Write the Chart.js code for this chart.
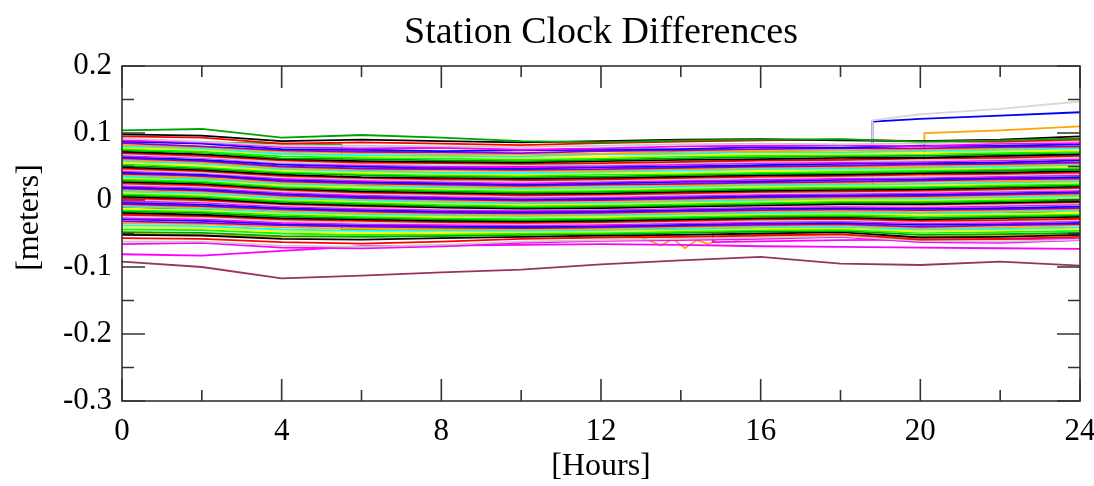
<!DOCTYPE html>
<html>
<head>
<meta charset="utf-8">
<title>Station Clock Differences</title>
<script src="https://cdn.jsdelivr.net/npm/chart.js@4.4.1/dist/chart.umd.min.js"></script>
<style>
  html, body { margin: 0; padding: 0; background: #fff; }
  #wrap { width: 1094px; height: 486px; position: relative; }
</style>
</head>
<body>
<div id="wrap"><canvas id="chart"></canvas></div>
<script>
// sample hours shared by all regular stations
const hours = [0, 2, 4, 6, 8, 10, 12, 14, 16, 18, 20, 22, 24];

// clock difference per station [m], one row per station
const clockDiffs = [
  [0.104, 0.106, 0.093, 0.097, 0.093, 0.088, 0.086, 0.089, 0.090, 0.091, 0.087, 0.089, 0.092],
  [0.098, 0.096, 0.088, 0.090, 0.088, 0.086, 0.088, 0.090, 0.091, 0.089, 0.088, 0.090, 0.095],
  [0.095, 0.093, 0.084, 0.086, 0.084, 0.082, 0.085, 0.087, 0.089, 0.090, 0.088, 0.087, 0.090],
  [0.092, 0.087, 0.081, 0.081, 0.080, 0.079, 0.081, 0.083, 0.084, 0.083, 0.085, 0.086, 0.088],
  [0.089, 0.086, 0.079, 0.077, 0.078, 0.075, 0.077, 0.080, 0.081, 0.082, 0.080, 0.084, 0.085],
  [0.087, 0.084, 0.076, 0.075, 0.073, 0.074, 0.075, 0.076, 0.079, 0.078, 0.081, 0.081, 0.083],
  [0.085, 0.080, 0.074, 0.072, 0.071, 0.070, 0.073, 0.074, 0.076, 0.077, 0.077, 0.079, 0.080],
  [0.082, 0.079, 0.072, 0.070, 0.068, 0.068, 0.069, 0.072, 0.073, 0.074, 0.075, 0.077, 0.079],
  [0.080, 0.077, 0.069, 0.067, 0.066, 0.065, 0.068, 0.069, 0.072, 0.071, 0.073, 0.075, 0.077],
  [0.078, 0.075, 0.068, 0.065, 0.064, 0.063, 0.064, 0.067, 0.069, 0.069, 0.070, 0.073, 0.074],
  [0.076, 0.072, 0.065, 0.063, 0.062, 0.060, 0.062, 0.065, 0.066, 0.067, 0.069, 0.070, 0.072],
  [0.074, 0.071, 0.062, 0.061, 0.059, 0.058, 0.060, 0.062, 0.064, 0.065, 0.066, 0.068, 0.071],
  [0.072, 0.068, 0.061, 0.058, 0.057, 0.056, 0.058, 0.060, 0.061, 0.063, 0.063, 0.066, 0.068],
  [0.070, 0.066, 0.059, 0.056, 0.055, 0.054, 0.055, 0.057, 0.059, 0.060, 0.062, 0.063, 0.066],
  [0.068, 0.064, 0.056, 0.054, 0.052, 0.052, 0.053, 0.055, 0.057, 0.058, 0.059, 0.061, 0.063],
  [0.066, 0.063, 0.055, 0.052, 0.050, 0.049, 0.051, 0.053, 0.055, 0.056, 0.057, 0.059, 0.061],
  [0.064, 0.060, 0.053, 0.050, 0.048, 0.047, 0.049, 0.050, 0.052, 0.054, 0.055, 0.056, 0.059],
  [0.062, 0.058, 0.050, 0.047, 0.046, 0.045, 0.046, 0.048, 0.050, 0.051, 0.053, 0.054, 0.056],
  [0.060, 0.056, 0.048, 0.045, 0.044, 0.043, 0.044, 0.046, 0.048, 0.049, 0.050, 0.052, 0.054],
  [0.058, 0.054, 0.046, 0.043, 0.041, 0.040, 0.042, 0.044, 0.046, 0.047, 0.048, 0.050, 0.052],
  [0.056, 0.051, 0.044, 0.041, 0.039, 0.038, 0.040, 0.041, 0.043, 0.045, 0.046, 0.048, 0.050],
  [0.054, 0.049, 0.042, 0.039, 0.037, 0.036, 0.038, 0.039, 0.041, 0.042, 0.044, 0.046, 0.048],
  [0.051, 0.047, 0.040, 0.037, 0.035, 0.034, 0.035, 0.037, 0.039, 0.040, 0.042, 0.044, 0.045],
  [0.049, 0.045, 0.038, 0.034, 0.033, 0.032, 0.033, 0.035, 0.037, 0.038, 0.040, 0.041, 0.043],
  [0.047, 0.043, 0.036, 0.033, 0.031, 0.030, 0.031, 0.033, 0.035, 0.036, 0.038, 0.039, 0.041],
  [0.045, 0.041, 0.034, 0.031, 0.029, 0.027, 0.029, 0.031, 0.033, 0.034, 0.035, 0.037, 0.039],
  [0.043, 0.040, 0.032, 0.029, 0.027, 0.025, 0.027, 0.029, 0.030, 0.032, 0.033, 0.035, 0.037],
  [0.041, 0.038, 0.030, 0.027, 0.025, 0.023, 0.025, 0.027, 0.028, 0.030, 0.031, 0.033, 0.034],
  [0.039, 0.036, 0.028, 0.025, 0.023, 0.021, 0.023, 0.024, 0.026, 0.027, 0.029, 0.031, 0.032],
  [0.037, 0.033, 0.026, 0.023, 0.021, 0.019, 0.021, 0.022, 0.024, 0.025, 0.027, 0.028, 0.030],
  [0.035, 0.031, 0.024, 0.021, 0.019, 0.017, 0.018, 0.020, 0.022, 0.023, 0.024, 0.026, 0.028],
  [0.033, 0.030, 0.022, 0.019, 0.017, 0.015, 0.016, 0.018, 0.020, 0.021, 0.022, 0.024, 0.026],
  [0.031, 0.028, 0.020, 0.017, 0.015, 0.013, 0.014, 0.016, 0.018, 0.019, 0.020, 0.022, 0.024],
  [0.029, 0.026, 0.018, 0.015, 0.013, 0.011, 0.012, 0.014, 0.016, 0.017, 0.018, 0.020, 0.022],
  [0.027, 0.024, 0.017, 0.013, 0.011, 0.009, 0.010, 0.012, 0.014, 0.015, 0.016, 0.018, 0.020],
  [0.025, 0.022, 0.015, 0.011, 0.009, 0.007, 0.008, 0.010, 0.012, 0.013, 0.014, 0.016, 0.018],
  [0.023, 0.020, 0.013, 0.009, 0.007, 0.005, 0.006, 0.008, 0.010, 0.011, 0.012, 0.014, 0.016],
  [0.021, 0.018, 0.011, 0.007, 0.005, 0.003, 0.004, 0.006, 0.008, 0.009, 0.010, 0.012, 0.014],
  [0.019, 0.016, 0.009, 0.005, 0.003, 0.001, 0.002, 0.004, 0.006, 0.007, 0.008, 0.010, 0.012],
  [0.017, 0.014, 0.007, 0.003, 0.001, -0.001, 0.000, 0.002, 0.004, 0.005, 0.006, 0.008, 0.010],
  [0.015, 0.012, 0.005, 0.002, -0.001, -0.003, -0.002, 0.000, 0.002, 0.003, 0.004, 0.006, 0.008],
  [0.013, 0.010, 0.003, 0.000, -0.003, -0.005, -0.004, -0.002, 0.000, 0.002, 0.002, 0.004, 0.006],
  [0.011, 0.008, 0.001, -0.002, -0.005, -0.007, -0.006, -0.004, -0.002, 0.000, 0.000, 0.002, 0.004],
  [0.009, 0.006, -0.001, -0.004, -0.007, -0.009, -0.008, -0.006, -0.004, -0.002, -0.002, 0.000, 0.002],
  [0.007, 0.004, -0.003, -0.006, -0.009, -0.011, -0.010, -0.008, -0.006, -0.004, -0.004, -0.002, 0.000],
  [0.005, 0.002, -0.005, -0.008, -0.011, -0.013, -0.012, -0.010, -0.008, -0.006, -0.006, -0.004, -0.002],
  [0.003, 0.000, -0.006, -0.009, -0.011, -0.012, -0.011, -0.009, -0.007, -0.006, -0.007, -0.005, -0.003],
  [0.001, -0.002, -0.008, -0.011, -0.013, -0.014, -0.013, -0.011, -0.009, -0.008, -0.009, -0.007, -0.005],
  [-0.002, -0.004, -0.010, -0.013, -0.015, -0.016, -0.015, -0.013, -0.011, -0.010, -0.011, -0.009, -0.007],
  [-0.004, -0.007, -0.012, -0.015, -0.017, -0.018, -0.017, -0.015, -0.013, -0.012, -0.013, -0.012, -0.010],
  [-0.006, -0.009, -0.014, -0.017, -0.019, -0.020, -0.019, -0.017, -0.015, -0.014, -0.015, -0.014, -0.012],
  [-0.008, -0.011, -0.016, -0.019, -0.021, -0.022, -0.021, -0.019, -0.017, -0.016, -0.018, -0.016, -0.014],
  [-0.010, -0.013, -0.018, -0.021, -0.023, -0.024, -0.023, -0.021, -0.019, -0.018, -0.020, -0.018, -0.016],
  [-0.013, -0.015, -0.020, -0.023, -0.025, -0.026, -0.025, -0.023, -0.021, -0.020, -0.022, -0.021, -0.019],
  [-0.015, -0.017, -0.022, -0.025, -0.027, -0.028, -0.027, -0.025, -0.023, -0.022, -0.024, -0.023, -0.021],
  [-0.017, -0.019, -0.025, -0.027, -0.029, -0.030, -0.029, -0.027, -0.025, -0.024, -0.027, -0.025, -0.023],
  [-0.019, -0.022, -0.027, -0.029, -0.031, -0.032, -0.031, -0.029, -0.027, -0.026, -0.029, -0.027, -0.025],
  [-0.022, -0.024, -0.029, -0.031, -0.033, -0.034, -0.033, -0.031, -0.029, -0.028, -0.031, -0.030, -0.028],
  [-0.024, -0.026, -0.031, -0.034, -0.035, -0.036, -0.035, -0.033, -0.031, -0.030, -0.033, -0.032, -0.030],
  [-0.027, -0.029, -0.034, -0.036, -0.037, -0.038, -0.037, -0.035, -0.033, -0.032, -0.035, -0.034, -0.032],
  [-0.029, -0.031, -0.036, -0.038, -0.039, -0.040, -0.039, -0.037, -0.035, -0.034, -0.037, -0.036, -0.034],
  [-0.032, -0.034, -0.038, -0.040, -0.041, -0.042, -0.041, -0.039, -0.037, -0.036, -0.040, -0.038, -0.036],
  [-0.035, -0.036, -0.041, -0.043, -0.044, -0.044, -0.043, -0.041, -0.039, -0.038, -0.042, -0.041, -0.038],
  [-0.038, -0.039, -0.044, -0.046, -0.046, -0.046, -0.045, -0.043, -0.041, -0.040, -0.044, -0.043, -0.041],
  [-0.041, -0.042, -0.047, -0.049, -0.049, -0.048, -0.047, -0.045, -0.043, -0.042, -0.047, -0.045, -0.043],
  [-0.044, -0.045, -0.050, -0.052, -0.051, -0.050, -0.049, -0.047, -0.045, -0.044, -0.049, -0.048, -0.046],
  [-0.048, -0.049, -0.054, -0.055, -0.054, -0.052, -0.051, -0.049, -0.047, -0.046, -0.052, -0.051, -0.049],
  [-0.052, -0.053, -0.058, -0.059, -0.057, -0.055, -0.053, -0.052, -0.050, -0.048, -0.056, -0.055, -0.052],
  [-0.057, -0.058, -0.063, -0.065, -0.062, -0.058, -0.056, -0.055, -0.053, -0.051, -0.059, -0.058, -0.055],
  [-0.062, -0.062, -0.068, -0.070, -0.067, -0.062, -0.060, -0.058, -0.056, -0.054, -0.061, -0.062, -0.059],
  [-0.066, -0.064, -0.071, -0.072, -0.069, -0.064, -0.061, -0.060, -0.058, -0.055, -0.063, -0.064, -0.060],
  // stations drifting across the band
  [0.030, 0.034, 0.040, 0.045, 0.047, 0.050, 0.052, 0.055, 0.058, 0.060, 0.063, 0.066, 0.068],
  [0.010, 0.014, 0.020, 0.022, 0.024, 0.028, 0.030, 0.033, 0.035, 0.038, 0.040, 0.044, 0.046],
  [0.040, 0.036, 0.030, 0.024, 0.020, 0.018, 0.015, 0.014, 0.012, 0.010, 0.008, 0.006, 0.005],
  [-0.020, -0.022, -0.018, -0.010, -0.005, 0.000, 0.004, 0.006, 0.008, 0.010, 0.012, 0.014, 0.016],
  [0.020, 0.018, 0.012, 0.006, 0.000, -0.004, -0.006, -0.008, -0.010, -0.012, -0.014, -0.015, -0.018],
  // the two low outliers
  [-0.081, -0.083, -0.076, -0.069, -0.068, -0.067, -0.066, -0.067, -0.069, -0.070, -0.071, -0.072, -0.073],
  [-0.092, -0.100, -0.117, -0.113, -0.108, -0.104, -0.096, -0.090, -0.085, -0.095, -0.097, -0.092, -0.098],
];

const lineColors = ['#00a000', '#000000', '#ff0000', '#c8c8c8', '#ff00ff', '#0000ff',
  '#9400d3', '#ffa500', '#00ffff', '#ffff00', '#00ff00'];
const outlierColors = ['#ff00ff', '#993366'];

// stations with a clock reset during the day (own time stamps)
const grayJumpHours = [0, 6, 12, 18.8, 18.8, 20, 22, 24];
const grayJumpValues = [0.048, 0.044, 0.046, 0.044, 0.119, 0.128, 0.136, 0.147];
const blueJumpHours = [0, 6, 12, 18.8, 18.8, 20, 22, 24];
const blueJumpValues = [-0.012, -0.018, -0.016, -0.02, 0.117, 0.121, 0.126, 0.131];
const orangeJumpHours = [0, 6, 12, 20.1, 20.1, 22, 24];
const orangeJumpValues = [0.006, 0.002, 0.004, 0.004, 0.100, 0.104, 0.110];
const magentaStepHours = [0, 6, 12, 14.8, 14.8, 18, 24];
const magentaStepValues = [0.004, 0.000, 0.001, 0.000, -0.063, -0.060, -0.058];
const greenStepHours = [0, 4, 5.5, 5.5, 10, 16.6, 16.6, 24];
const greenStepValues = [0.088, 0.084, 0.083, -0.045, -0.042, -0.044, -0.020, -0.018];
const orangeNoisyHours = [0, 4, 8, 12, 13, 13.5, 13.8, 14.1, 14.4, 14.7, 15, 15.4, 16, 20, 24];
const orangeNoisyValues = [-0.050, -0.055, -0.052, -0.050, -0.055, -0.068, -0.058, -0.072, -0.060, -0.066, -0.055, -0.060, -0.052, -0.055, -0.050];

const xMajorTicks = [0, 4, 8, 12, 16, 20, 24];
const xMinorTicks = [2, 6, 10, 14, 18, 22];
const yMajorTicks = [0.2, 0.1, 0, -0.1, -0.2, -0.3];
const yMinorTicks = [0.15, 0.05, -0.05, -0.15, -0.25];

const TITLE = 'Station Clock Differences';
const SERIF = '"Liberation Serif", "Times New Roman", serif';

const toPoints = (xs, ys) => ys.map((y, i) => ({x: xs[i], y}));

const regularCount = clockDiffs.length - outlierColors.length;
const datasets = clockDiffs.map((row, i) => ({
  data: toPoints(hours, row),
  borderColor: i < regularCount ? lineColors[i % lineColors.length] : outlierColors[i - regularCount],
}));
[
  [grayJumpHours, grayJumpValues, '#d8d8d8'],
  [blueJumpHours, blueJumpValues, '#0000ff'],
  [orangeJumpHours, orangeJumpValues, '#ffa500'],
  [magentaStepHours, magentaStepValues, '#ff00ff'],
  [greenStepHours, greenStepValues, '#00a000'],
  [orangeNoisyHours, orangeNoisyValues, '#ffa500'],
].forEach(([xs, ys, color]) => datasets.push({data: toPoints(xs, ys), borderColor: color}));

// frame + inward tick marks on all four sides, title centred over the plot
const frameTicks = {
  id: 'frameTicks',
  afterDatasetsDraw(chart) {
    const {ctx, chartArea: a, scales: {x, y}} = chart;
    ctx.save();
    ctx.strokeStyle = '#333';
    ctx.lineWidth = 1.6;
    ctx.strokeRect(a.left, a.top, a.right - a.left, a.bottom - a.top);
    ctx.beginPath();
    const xTick = (v, len) => {
      const px = x.getPixelForValue(v);
      ctx.moveTo(px, a.bottom); ctx.lineTo(px, a.bottom - len);
      ctx.moveTo(px, a.top); ctx.lineTo(px, a.top + len);
    };
    const yTick = (v, len) => {
      const py = y.getPixelForValue(v);
      ctx.moveTo(a.left, py); ctx.lineTo(a.left + len, py);
      ctx.moveTo(a.right, py); ctx.lineTo(a.right - len, py);
    };
    xMajorTicks.forEach((v) => xTick(v, 22));
    xMinorTicks.forEach((v) => xTick(v, 11));
    yMajorTicks.forEach((v) => yTick(v, 23));
    yMinorTicks.forEach((v) => yTick(v, 12));
    ctx.stroke();

    ctx.fillStyle = '#000';
    ctx.font = '38px ' + SERIF;
    ctx.textAlign = 'center';
    ctx.textBaseline = 'middle';
    ctx.fillText(TITLE, (a.left + a.right) / 2, a.top - 33);
    ctx.restore();
  },
};

new Chart(document.getElementById('chart'), {
  type: 'line',
  data: {datasets},
  options: {
    responsive: true,
    maintainAspectRatio: false,
    animation: false,
    layout: {padding: {top: 66, left: 0, right: 0, bottom: 0}},
    elements: {point: {radius: 0}, line: {borderWidth: 1.8, tension: 0, fill: false}},
    plugins: {
      legend: {display: false},
      tooltip: {enabled: false},
      title: {display: false},
    },
    scales: {
      x: {
        type: 'linear', min: 0, max: 24,
        grid: {display: false, drawTicks: false},
        border: {display: false},
        ticks: {stepSize: 4, color: '#000', font: {family: SERIF, size: 31}, padding: 12, maxRotation: 0},
        title: {display: true, text: '[Hours]', color: '#000', font: {family: SERIF, size: 32}, padding: {top: 0, bottom: 0}},
        afterFit: (s) => { s.height = 85; s.paddingLeft = 0; s.paddingRight = 14; },
      },
      y: {
        min: -0.3, max: 0.2,
        grid: {display: false, drawTicks: false},
        border: {display: false},
        ticks: {
          stepSize: 0.1, color: '#000', font: {family: SERIF, size: 31}, padding: 10,
          callback: (v) => (Math.abs(v) < 1e-9 ? '0' : v.toFixed(1)),
        },
        title: {display: true, text: '    [meters]', color: '#000', font: {family: SERIF, size: 32}, padding: {top: 10, bottom: 0}},
        afterFit: (s) => { s.width = 122; s.paddingTop = 0; s.paddingBottom = 0; },
      },
    },
  },
  plugins: [frameTicks],
});
</script>
</body>
</html>
